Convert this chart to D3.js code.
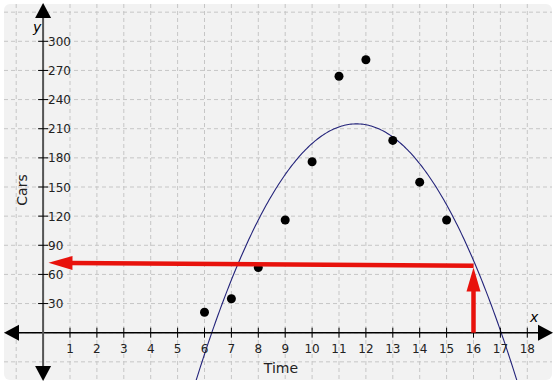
<!DOCTYPE html>
<html>
<head>
<meta charset="utf-8">
<script src="https://cdn.jsdelivr.net/npm/d3@7"></script>
<style>
  body { margin: 0; background: #fff; }
  text { font-family: "DejaVu Sans", sans-serif; }
</style>
</head>
<body>
<div class="diagram"></div>
<script>
const times = [6, 7, 8, 9, 10, 11, 12, 13, 14, 15];
const cars = [21, 35, 67, 116, 176, 264, 281, 198, 155, 116];
const xTicks = [1, 2, 3, 4, 5, 6, 7, 8, 9, 10, 11, 12, 13, 14, 15, 16, 17, 18];
const yTicks = [30, 60, 90, 120, 150, 180, 210, 240, 270, 300];
// fitted parabola: vertex (11.65, 215), roots near 6.27 and 17.03
const fitA = -7.43, fitH = 11.65, fitK = 215;
const arrowH = [[16, 69], [0.2, 72]];   // horizontal red arrow (from, to)
const arrowV = [[16, 0], [16, 67]];     // vertical red arrow (from, to)

const W = 557, H = 387;
const svg = d3.select(".diagram").append("svg")
  .attr("width", W).attr("height", H);

const x = d3.scaleLinear().domain([0, 18]).range([43.1, 527.3]);
const y = d3.scaleLinear().domain([0, 300]).range([332.7, 41.3]);

svg.append("defs").append("clipPath").attr("id", "panel")
  .append("rect").attr("x", 4).attr("y", 4).attr("width", 548).attr("height", 376);

svg.append("rect")
  .attr("x", 4).attr("y", 4).attr("width", 548).attr("height", 376)
  .attr("rx", 6).attr("fill", "#f2f2f2");

// grid
const g = svg.append("g").attr("clip-path", "url(#panel)");
g.selectAll(".vg").data(d3.range(-1, 19)).enter().append("line")
  .attr("x1", d => x(d)).attr("x2", d => x(d))
  .attr("y1", 4).attr("y2", 380)
  .attr("stroke", "#c6c6c6").attr("stroke-dasharray", "4,3");
g.selectAll(".hg").data(d3.range(-30, 331, 30)).enter().append("line")
  .attr("y1", d => y(d)).attr("y2", d => y(d))
  .attr("x1", 4).attr("x2", 552)
  .attr("stroke", "#c6c6c6").attr("stroke-dasharray", "4,3");

// axes lines
svg.append("line").attr("x1", 12).attr("x2", 540)
  .attr("y1", y(0)).attr("y2", y(0)).attr("stroke", "#000").attr("stroke-width", 1.5);
svg.append("line").attr("x1", x(0)).attr("x2", x(0))
  .attr("y1", 14).attr("y2", 370).attr("stroke", "#555").attr("stroke-width", 2);

// axis arrowheads
const ax = x(0), ay = y(0);
svg.append("path").attr("d", `M${ax},3 L${ax - 8},18 L${ax + 8},18 Z`).attr("fill", "#000");
svg.append("path").attr("d", `M${ax},381 L${ax - 8},366 L${ax + 8},366 Z`).attr("fill", "#000");
svg.append("path").attr("d", `M4,${ay} L19,${ay - 8} L19,${ay + 8} Z`).attr("fill", "#000");
svg.append("path").attr("d", `M553,${ay} L538,${ay - 8} L538,${ay + 8} Z`).attr("fill", "#000");

// ticks
svg.selectAll(".xt").data(xTicks).enter().append("line")
  .attr("x1", d => x(d)).attr("x2", d => x(d))
  .attr("y1", ay - 5).attr("y2", ay + 5).attr("stroke", "#000");
svg.selectAll(".xl").data(xTicks).enter().append("text")
  .attr("x", d => x(d)).attr("y", ay + 20)
  .attr("text-anchor", "middle").attr("font-size", 12).attr("fill", "#222")
  .text(d => d);
svg.selectAll(".yt").data(yTicks).enter().append("line")
  .attr("y1", d => y(d)).attr("y2", d => y(d))
  .attr("x1", ax - 5).attr("x2", ax + 5).attr("stroke", "#000");
svg.selectAll(".yl").data(yTicks).enter().append("text")
  .attr("x", ax + 5).attr("y", d => y(d) + 4.5)
  .attr("font-size", 12).attr("fill", "#222")
  .text(d => d);

// axis labels
svg.append("text").attr("x", 33).attr("y", 32).attr("font-size", 14)
  .attr("font-style", "italic").text("y");
svg.append("text").attr("x", 530).attr("y", 322).attr("font-size", 14)
  .attr("font-style", "italic").text("x");
svg.append("text").attr("x", 281).attr("y", 373).attr("font-size", 14)
  .attr("text-anchor", "middle").attr("fill", "#222").text("Time");
svg.append("text").attr("transform", "translate(27,190) rotate(-90)")
  .attr("font-size", 14).attr("text-anchor", "middle").attr("fill", "#222").text("Cars");

// fitted curve
const curveX = d3.range(5.2, 18.0001, 0.05);
const line = d3.line().x(d => x(d)).y(d => y(fitA * (d - fitH) * (d - fitH) + fitK));
g.append("path").datum(curveX).attr("d", line)
  .attr("fill", "none").attr("stroke", "#23237a").attr("stroke-width", 1.1);

// data points
svg.selectAll(".pt").data(times).enter().append("circle")
  .attr("cx", d => x(d)).attr("cy", (d, i) => y(cars[i]))
  .attr("r", 4.5).attr("fill", "#000");

// red arrows
const red = "#e8120c";
function redArrow(p0, p1, len, half) {
  const x0 = x(p0[0]), y0 = y(p0[1]), x1 = x(p1[0]), y1 = y(p1[1]);
  const dx = x1 - x0, dy = y1 - y0, L = Math.hypot(dx, dy);
  const ux = dx / L, uy = dy / L;
  const bx = x1 - ux * len, by = y1 - uy * len;
  svg.append("line").attr("x1", x0).attr("y1", y0).attr("x2", bx + ux * 2).attr("y2", by + uy * 2)
    .attr("stroke", red).attr("stroke-width", 4.5);
  svg.append("path")
    .attr("d", `M${x1},${y1} L${bx - uy * half},${by + ux * half} L${bx + uy * half},${by - ux * half} Z`)
    .attr("fill", red);
}
redArrow(arrowH[0], arrowH[1], 24, 7);
redArrow(arrowV[0], arrowV[1], 24, 7);
</script>
</body>
</html>
